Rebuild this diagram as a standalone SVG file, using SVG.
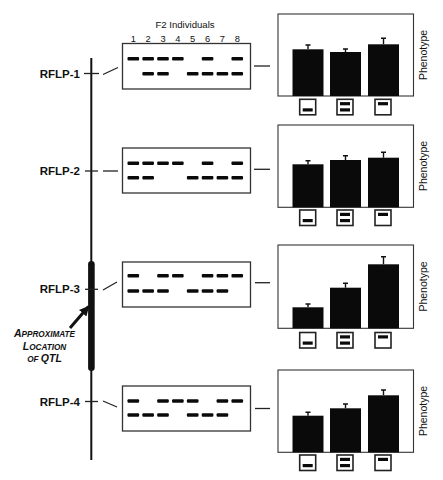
<svg xmlns="http://www.w3.org/2000/svg" xmlns:xlink="http://www.w3.org/1999/xlink" width="443" height="480" viewBox="0 0 443 480">
<style>
.bg{fill:#fff}
.gel{fill:#fff;stroke:#333;stroke-width:1.3}
.pbox{fill:#fff;stroke:#333;stroke-width:1.1}
.bar{fill:#0a0a0a}
.err{stroke:#111;stroke-width:1.4;fill:none}
.con{stroke:#222;stroke-width:1.3;fill:none}
.chrom{stroke:#111;stroke-width:2;fill:none}
.lbl{font-family:"Liberation Sans",Arial,sans-serif;font-weight:bold;font-size:11.5px;fill:#111}
.hdr{font-family:"Liberation Sans",Arial,sans-serif;font-size:9.6px;fill:#111}
.num{font-family:"Liberation Sans",Arial,sans-serif;font-size:9.3px;fill:#111;text-anchor:middle}
.ph{font-family:"Liberation Sans",Arial,sans-serif;font-size:10.5px;fill:#111;text-anchor:middle}
.qtl{font-family:"Liberation Sans",Arial,sans-serif;font-weight:bold;font-style:italic;fill:#111;text-anchor:middle}
.ibox{fill:#fff;stroke:#222;stroke-width:1.6}
.iband{fill:#0a0a0a}
</style>
<defs>
<rect id="b" width="11.6" height="3.5" rx="1" fill="#0a0a0a"/>
<g id="icon1"><rect class="ibox" x="0" y="0" width="16" height="15.5"/><rect class="iband" x="3" y="9" width="10" height="3.2"/></g>
<g id="icon2"><rect class="ibox" x="0" y="0" width="16" height="15.5"/><rect class="iband" x="3" y="2.8" width="10" height="3.2"/><rect class="iband" x="3" y="9" width="10" height="3.2"/></g>
<g id="icon3"><rect class="ibox" x="0" y="0" width="16" height="15.5"/><rect class="iband" x="3" y="2.8" width="10" height="3.2"/></g>
<marker id="ah" viewBox="0 0 10 10" refX="9" refY="5" markerWidth="3.3" markerHeight="3.3" orient="auto" markerUnits="strokeWidth"><path d="M0,0 L10,5 L0,10 z" fill="#111"/></marker>
</defs>
<rect class="bg" width="443" height="480"/>

<g id="chromosome">
<line class="chrom" x1="91.3" y1="58" x2="91.3" y2="460"/>
<rect x="88.1" y="261" width="6.6" height="110" rx="3.3" fill="#111"/>
</g>

<g id="header">
<text class="hdr" x="185" y="27.5" text-anchor="middle">F2 Individuals</text>
<text class="num" x="133.3" y="41.8">1</text>
<text class="num" x="148.15" y="41.8">2</text>
<text class="num" x="163" y="41.8">3</text>
<text class="num" x="177.85" y="41.8">4</text>
<text class="num" x="192.7" y="41.8">5</text>
<text class="num" x="207.55" y="41.8">6</text>
<text class="num" x="222.4" y="41.8">7</text>
<text class="num" x="237.25" y="41.8">8</text>
</g>

<g id="qtl-label">
<text class="qtl" x="44.5" y="337"><tspan font-size="10.5">A</tspan><tspan font-size="8.2">PPROXIMATE</tspan></text>
<text class="qtl" x="44.5" y="350"><tspan font-size="10.5">L</tspan><tspan font-size="8.2">OCATION</tspan></text>
<text class="qtl" x="44.5" y="361.5"><tspan font-size="8.2">OF </tspan><tspan font-size="10.5">QTL</tspan></text>
</g>

<g id="connectors">
<line class="con" x1="84" y1="73.5" x2="99" y2="73.5"/>
<line class="con" x1="85" y1="171" x2="98" y2="171"/>
<line class="con" x1="85" y1="289.3" x2="98" y2="289.3"/>
<line class="con" x1="85" y1="401.5" x2="98" y2="401.5"/>
<line class="con" x1="103" y1="74.5" x2="118" y2="67.5"/>
<line class="con" x1="103" y1="171" x2="118" y2="171"/>
<line class="con" x1="103" y1="290" x2="117" y2="282"/>
<line class="con" x1="103" y1="401" x2="117" y2="407"/>
<line class="con" x1="254" y1="66" x2="270" y2="66"/>
<line class="con" x1="254" y1="169.3" x2="270" y2="169.3"/>
<line class="con" x1="255" y1="282.7" x2="270" y2="282.7"/>
<line class="con" x1="255" y1="408.5" x2="270" y2="408.5"/>
<line x1="70" y1="328" x2="88.5" y2="306.5" stroke="#111" stroke-width="3" marker-end="url(#ah)"/>
</g>

<g id="rflp1">
<text class="lbl" x="80" y="77.5" text-anchor="end">RFLP-1</text>
<rect class="gel" x="122.5" y="43.5" width="128" height="45.5"/>
<use href="#b" x="127.5" y="57"/><use href="#b" x="142.35" y="57"/><use href="#b" x="157.2" y="57"/><use href="#b" x="172.05" y="57"/><use href="#b" x="201.75" y="57"/><use href="#b" x="231.45" y="57"/>
<use href="#b" x="142.35" y="72"/><use href="#b" x="157.2" y="72"/><use href="#b" x="186.9" y="72"/><use href="#b" x="201.75" y="72"/><use href="#b" x="216.6" y="72"/><use href="#b" x="231.45" y="72"/>
</g>
<g id="pheno1">
<rect class="pbox" x="278" y="14" width="135.5" height="82"/>
<rect class="bar" x="292.5" y="49.3" width="31" height="46.7"/>
<rect class="bar" x="330" y="52" width="31" height="44"/>
<rect class="bar" x="368" y="44.3" width="31" height="51.7"/>
<path class="err" d="M308,49.3V45M305.5,45H310.5M345.5,52V49M343,49H348M383.5,44.3V38.3M381,38.3H386"/>
<text class="ph" transform="translate(427,55) rotate(-90)">Phenotype</text>
<use href="#icon1" x="299.7" y="99.3"/><use href="#icon2" x="337" y="99.3"/><use href="#icon3" x="375" y="99.3"/>
</g>

<g id="rflp2">
<text class="lbl" x="80" y="175" text-anchor="end">RFLP-2</text>
<rect class="gel" x="122.5" y="148" width="128" height="45"/>
<use href="#b" x="127.5" y="161.5"/><use href="#b" x="142.35" y="161.5"/><use href="#b" x="157.2" y="161.5"/><use href="#b" x="172.05" y="161.5"/><use href="#b" x="201.75" y="161.5"/><use href="#b" x="231.45" y="161.5"/>
<use href="#b" x="127.5" y="176"/><use href="#b" x="142.35" y="176"/><use href="#b" x="186.9" y="176"/><use href="#b" x="201.75" y="176"/><use href="#b" x="216.6" y="176"/><use href="#b" x="231.45" y="176"/>
</g>
<g id="pheno2">
<rect class="pbox" x="278" y="125" width="135.5" height="82.3"/>
<rect class="bar" x="292.5" y="164.3" width="31" height="43"/>
<rect class="bar" x="330" y="160" width="31" height="47.3"/>
<rect class="bar" x="368" y="157.7" width="31" height="49.6"/>
<path class="err" d="M308,164.3V160.7M305.5,160.7H310.5M345.5,160V155.7M343,155.7H348M383.5,157.7V152.3M381,152.3H386"/>
<text class="ph" transform="translate(427,166) rotate(-90)">Phenotype</text>
<use href="#icon1" x="299.7" y="210"/><use href="#icon2" x="337" y="210"/><use href="#icon3" x="375" y="210"/>
</g>

<g id="rflp3">
<text class="lbl" x="80" y="293.3" text-anchor="end">RFLP-3</text>
<rect class="gel" x="122.5" y="262" width="128" height="45"/>
<use href="#b" x="127.5" y="274"/><use href="#b" x="157.2" y="274"/><use href="#b" x="172.05" y="274"/><use href="#b" x="201.75" y="274"/><use href="#b" x="216.6" y="274"/><use href="#b" x="231.45" y="274"/>
<use href="#b" x="127.5" y="289.3"/><use href="#b" x="142.35" y="289.3"/><use href="#b" x="157.2" y="289.3"/><use href="#b" x="186.9" y="289.3"/><use href="#b" x="201.75" y="289.3"/><use href="#b" x="216.6" y="289.3"/>
</g>
<g id="pheno3">
<rect class="pbox" x="278" y="245" width="135.5" height="83.3"/>
<rect class="bar" x="292.5" y="307.3" width="31" height="21"/>
<rect class="bar" x="330" y="287.7" width="31" height="40.6"/>
<rect class="bar" x="368" y="264.3" width="31" height="64"/>
<path class="err" d="M308,307.3V304M305.5,304H310.5M345.5,287.7V283.3M343,283.3H348M383.5,264.3V256.7M381,256.7H386"/>
<text class="ph" transform="translate(427,286.5) rotate(-90)">Phenotype</text>
<use href="#icon1" x="299.7" y="332.5"/><use href="#icon2" x="337" y="332.5"/><use href="#icon3" x="375" y="332.5"/>
</g>

<g id="rflp4">
<text class="lbl" x="80" y="405.5" text-anchor="end">RFLP-4</text>
<rect class="gel" x="122.5" y="386" width="128" height="45"/>
<use href="#b" x="127.5" y="399.3"/><use href="#b" x="157.2" y="399.3"/><use href="#b" x="172.05" y="399.3"/><use href="#b" x="186.9" y="399.3"/><use href="#b" x="216.6" y="399.3"/><use href="#b" x="231.45" y="399.3"/>
<use href="#b" x="127.5" y="413.3"/><use href="#b" x="142.35" y="413.3"/><use href="#b" x="157.2" y="413.3"/><use href="#b" x="186.9" y="413.3"/><use href="#b" x="201.75" y="413.3"/><use href="#b" x="216.6" y="413.3"/>
</g>
<g id="pheno4">
<rect class="pbox" x="278" y="370" width="135.5" height="82.3"/>
<rect class="bar" x="292.5" y="415.7" width="31" height="36.6"/>
<rect class="bar" x="330" y="408.3" width="31" height="44"/>
<rect class="bar" x="368" y="395.3" width="31" height="57"/>
<path class="err" d="M308,415.7V412.3M305.5,412.3H310.5M345.5,408.3V404M343,404H348M383.5,395.3V390M381,390H386"/>
<text class="ph" transform="translate(427,411) rotate(-90)">Phenotype</text>
<use href="#icon1" x="299.7" y="455"/><use href="#icon2" x="337" y="455"/><use href="#icon3" x="375" y="455"/>
</g>
</svg>
